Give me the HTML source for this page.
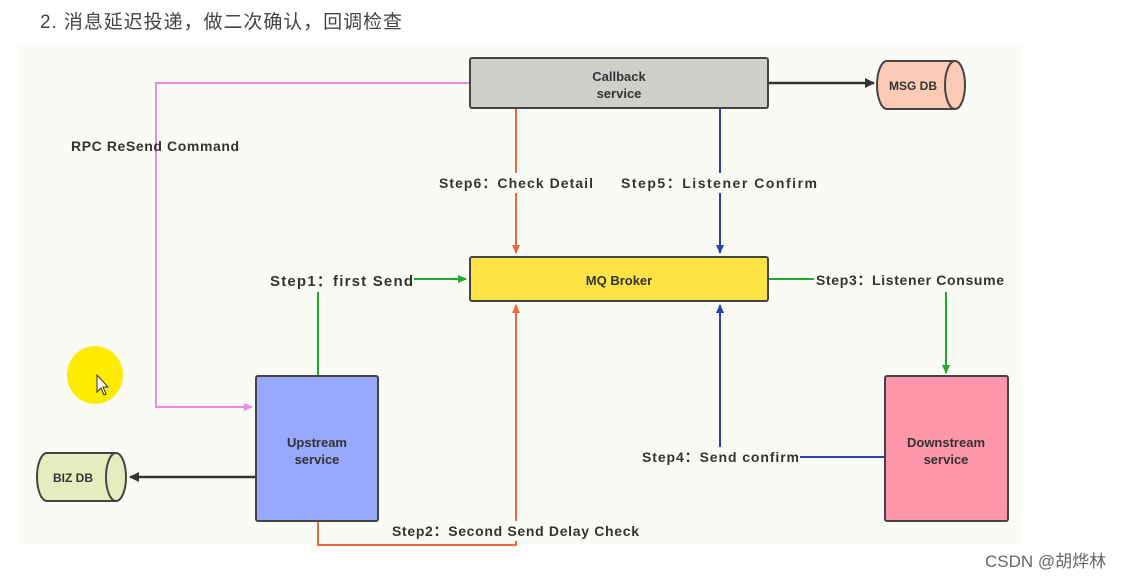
<!DOCTYPE html>
<html><head><meta charset="utf-8"><style>
body{margin:0;width:1131px;height:579px;background:#fff;overflow:hidden;font-family:"Liberation Sans","Noto Sans CJK SC",sans-serif}
</style></head><body>
<svg width="1131" height="579" xmlns="http://www.w3.org/2000/svg" font-family="Liberation Sans, Noto Sans CJK SC, sans-serif">
<rect x="0" y="0" width="1131" height="579" fill="#ffffff"/>
<rect x="18" y="45" width="1005" height="500" fill="#fbfbf5"/>
<text x="40" y="28" font-size="19" fill="#444" textLength="362">2. 消息延迟投递，做二次确认，回调检查</text>
<defs>
<marker id="pk" markerWidth="10" markerHeight="10" refX="8" refY="5" orient="auto" markerUnits="userSpaceOnUse"><path d="M0,1 L9,5 L0,9z" fill="#e98ae0"/></marker>
<marker id="or" markerWidth="10" markerHeight="10" refX="8" refY="5" orient="auto" markerUnits="userSpaceOnUse"><path d="M0,1 L9,5 L0,9z" fill="#ee6a3c"/></marker>
<marker id="bl" markerWidth="10" markerHeight="10" refX="8" refY="5" orient="auto" markerUnits="userSpaceOnUse"><path d="M0,1 L9,5 L0,9z" fill="#2a3fbf"/></marker>
<marker id="gr" markerWidth="10" markerHeight="10" refX="8" refY="5" orient="auto" markerUnits="userSpaceOnUse"><path d="M0,1 L9,5 L0,9z" fill="#1faa2c"/></marker>
<marker id="bk" markerWidth="12" markerHeight="12" refX="9" refY="6" orient="auto" markerUnits="userSpaceOnUse"><path d="M0,1 L10,6 L0,11z" fill="#333"/></marker>
</defs>
<g fill="none" stroke-width="2">
<path d="M470,83 H156 V407 H252" stroke="#e98ae0" marker-end="url(#pk)"/>
<path d="M516,108 V253" stroke="#ee6a3c" marker-end="url(#or)"/>
<path d="M720,108 V253" stroke="#2a3fbf" marker-end="url(#bl)"/>
<path d="M318,376 V279 H466" stroke="#1faa2c" marker-end="url(#gr)"/>
<path d="M768,279 H946 V373" stroke="#1faa2c" marker-end="url(#gr)"/>
<path d="M885,457 H720 V305" stroke="#2a3fbf" marker-end="url(#bl)"/>
<path d="M318,521 V545 H516 V305" stroke="#ee6a3c" marker-end="url(#or)"/>
<path d="M768,83 H874" stroke="#333" stroke-width="2.5" marker-end="url(#bk)"/>
<path d="M256,477 H130" stroke="#333" stroke-width="2.5" marker-end="url(#bk)"/>
</g>
<rect x="470" y="58" width="298" height="50" rx="2" fill="#cfcfcc" stroke="#444" stroke-width="2"/>
<rect x="470" y="257" width="298" height="44" rx="2" fill="#fde346" stroke="#444" stroke-width="2"/>
<rect x="256" y="376" width="122" height="145" rx="2" fill="#98a8fb" stroke="#444" stroke-width="2"/>
<rect x="885" y="376" width="123" height="145" rx="2" fill="#fd96ab" stroke="#444" stroke-width="2"/>
<path d="M887,61 H955 A10,24 0 0 1 955,109 H887 A10,24 0 0 1 887,61z" fill="#fccbb6" stroke="#444" stroke-width="2"/>
<path d="M955,61 A10,24 0 0 0 955,109" fill="none" stroke="#444" stroke-width="2"/>
<path d="M47,453 H116 A10,24 0 0 1 116,501 H47 A10,24 0 0 1 47,453z" fill="#e4ecc0" stroke="#444" stroke-width="2"/>
<path d="M116,453 A10,24 0 0 0 116,501" fill="none" stroke="#444" stroke-width="2"/>
<g font-size="13" font-weight="bold" fill="#333" text-anchor="middle">
<text x="619" y="81">Callback</text><text x="619" y="98">service</text>
<text x="619" y="285">MQ Broker</text>
<text x="317" y="447">Upstream</text><text x="317" y="464">service</text>
<text x="946" y="447">Downstream</text><text x="946" y="464">service</text>
<text x="913" y="90" font-size="12">MSG DB</text>
<text x="73" y="482" font-size="12">BIZ DB</text>
</g>
<g font-size="14" font-weight="bold" fill="#333">
<rect x="438" y="173" width="156" height="20" fill="#fbfbf5"/>
<rect x="620" y="173" width="200" height="20" fill="#fbfbf5"/>
<rect x="640" y="447" width="160" height="20" fill="#fbfbf5"/>
<rect x="390" y="521" width="252" height="20" fill="#fbfbf5"/>
<rect x="266" y="268" width="148" height="24" fill="#fbfbf5"/>
<rect x="814" y="268" width="192" height="24" fill="#fbfbf5"/>
<text x="71" y="151" letter-spacing="0.6">RPC ReSend Command</text>
<text x="439" y="188" textLength="154">Step6：Check Detail</text>
<text x="621" y="188" textLength="196">Step5：Listener Confirm</text>
<text x="270" y="286" font-size="15" textLength="143">Step1：first Send</text>
<text x="816" y="285" textLength="188">Step3：Listener Consume</text>
<text x="642" y="462" textLength="157">Step4：Send confirm</text>
<text x="392" y="536" textLength="247">Step2：Second Send Delay Check</text>
</g>
<ellipse cx="95" cy="375" rx="28" ry="29" fill="#fdec00"/>
<path d="M97,375 L97,392 L101,388 L104,395 L106,394 L103,387 L108,387z" fill="#fff" stroke="#333" stroke-width="1"/>
<text x="985" y="567" font-size="17" fill="#666">CSDN @胡烨林</text>
</svg>
</body></html>
